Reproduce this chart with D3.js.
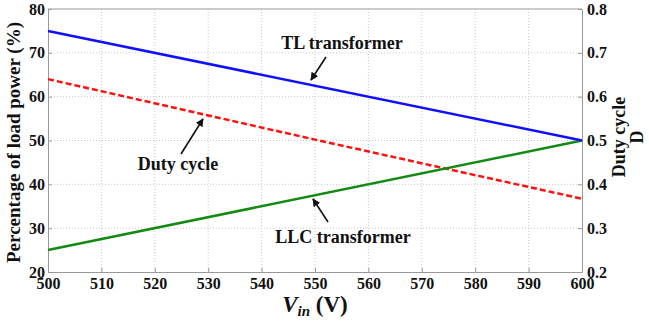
<!DOCTYPE html>
<html>
<head>
<meta charset="utf-8">
<script src="https://cdn.jsdelivr.net/npm/d3@7"></script>
<style>
  body { margin: 0; background: #fff; }
  svg text { font-family: "Liberation Serif", "Times New Roman", Tinos, "DejaVu Serif", serif !important; font-weight: bold; fill: #111; }
</style>
</head>
<body>
<div id="chart"></div>
<script>
const vin = [500, 600];
const tlTransformer = [75, 50];
const llcTransformer = [25, 50];
const dutyVin = [500, 550, 600];
const dutyCycle = [0.64, 0.502, 0.367];
const xTicks = [500, 510, 520, 530, 540, 550, 560, 570, 580, 590, 600];
const yTicks = [20, 30, 40, 50, 60, 70, 80];
const dTicks = [0.2, 0.3, 0.4, 0.5, 0.6, 0.7, 0.8];

const w = 649;
const h = 322;
const padL = 48, padR = 582, padT = 9, padB = 272;

const svg = d3.select("#chart")
    .append("svg")
    .attr("width", w)
    .attr("height", h);

const xScale = d3.scaleLinear().domain([500, 600]).range([padL, padR]);
const yScale = d3.scaleLinear().domain([20, 80]).range([padB, padT]);
const dScale = d3.scaleLinear().domain([0.2, 0.8]).range([padB, padT]);

// grid
const grid = svg.append("g");
grid.selectAll(".gx")
    .data(xTicks.slice(1, -1))
    .enter()
    .append("line")
    .attr("x1", d => xScale(d)).attr("x2", d => xScale(d))
    .attr("y1", padT).attr("y2", padB)
    .attr("stroke", "#c8c8c8")
    .attr("stroke-dasharray", "1,2");
grid.selectAll(".gy")
    .data(yTicks.slice(1, -1))
    .enter()
    .append("line")
    .attr("x1", padL).attr("x2", padR)
    .attr("y1", d => yScale(d)).attr("y2", d => yScale(d))
    .attr("stroke", "#c8c8c8")
    .attr("stroke-dasharray", "1,2");

// axes
const xAxis = d3.axisBottom(xScale).tickValues(xTicks).tickSizeInner(-4).tickSizeOuter(0).tickPadding(4);
const yAxis = d3.axisLeft(yScale).tickValues(yTicks).tickSizeInner(-4).tickSizeOuter(0).tickPadding(3);
const dAxis = d3.axisRight(dScale).tickValues(dTicks).tickFormat(d3.format(".1f")).tickSizeInner(-4).tickSizeOuter(0).tickPadding(5);

const gx = svg.append("g").attr("transform", `translate(0, ${padB})`).call(xAxis);
const gy = svg.append("g").attr("transform", `translate(${padL}, 0)`).call(yAxis);
const gd = svg.append("g").attr("transform", `translate(${padR}, 0)`).call(dAxis);
svg.append("line").attr("x1", padL).attr("x2", padR).attr("y1", padT).attr("y2", padT).attr("stroke", "#999");

[gx, gy, gd].forEach(g => {
    g.attr("font-family", null).attr("font-size", null);
    g.select(".domain").attr("stroke", "#999");
    g.selectAll(".tick line").attr("stroke", "#999");
    g.selectAll(".tick text").style("font-size", "16px").attr("fill", "#111");
});
gx.selectAll(".tick text").attr("dy", "0.8em");

// lines
const line = d3.line().x(d => xScale(d[0])).y(d => yScale(d[1]));
const dLine = d3.line().x(d => xScale(d[0])).y(d => dScale(d[1]));

svg.append("path")
    .attr("d", dLine(d3.zip(dutyVin, dutyCycle)))
    .attr("fill", "none")
    .attr("stroke", "#ff1010")
    .attr("stroke-width", 2.5)
    .attr("stroke-dasharray", "6,3");
svg.append("path")
    .attr("d", line(d3.zip(vin, llcTransformer)))
    .attr("fill", "none")
    .attr("stroke", "#138a13")
    .attr("stroke-width", 2.5);
svg.append("path")
    .attr("d", line(d3.zip(vin, tlTransformer)))
    .attr("fill", "none")
    .attr("stroke", "#1010ff")
    .attr("stroke-width", 2.5);

// annotations
svg.append("defs").append("marker")
    .attr("id", "arrow")
    .attr("viewBox", "0 0 10 10")
    .attr("refX", 9).attr("refY", 5)
    .attr("markerWidth", 5).attr("markerHeight", 5)
    .attr("orient", "auto")
    .append("path")
    .attr("d", "M0,0 L10,5 L0,10 z")
    .attr("fill", "#111");

const notes = [
    {text: "TL transformer", tx: 342, ty: 49, x1: 326, y1: 57, x2: 311, y2: 80},
    {text: "Duty cycle", tx: 178, ty: 170, x1: 181, y1: 154, x2: 203, y2: 119},
    {text: "LLC transformer", tx: 343, ty: 243, x1: 328, y1: 222, x2: 313, y2: 199}
];
notes.forEach(n => {
    svg.append("text")
        .attr("x", n.tx).attr("y", n.ty)
        .attr("text-anchor", "middle")
        .style("font-size", "18px")
        .text(n.text);
    svg.append("line")
        .attr("x1", n.x1).attr("y1", n.y1)
        .attr("x2", n.x2).attr("y2", n.y2)
        .attr("stroke", "#111")
        .attr("stroke-width", 1.6)
        .attr("marker-end", "url(#arrow)");
});

// axis titles
svg.append("text")
    .attr("transform", `translate(20, ${(padT + padB) / 2 + 2}) rotate(-90)`)
    .attr("text-anchor", "middle")
    .style("font-size", "19px")
    .text("Percentage of load power (%)");

const dt = svg.append("text")
    .attr("transform", `translate(625, 137) rotate(-90)`)
    .attr("text-anchor", "middle")
    .style("font-size", "18px");
dt.append("tspan").attr("x", 0).attr("dy", 0).text("Duty cycle");
dt.append("tspan").attr("x", 0).attr("dy", 18).text("D");

const xt = svg.append("text")
    .attr("x", 315).attr("y", 312)
    .attr("text-anchor", "middle")
    .style("font-size", "23px");
xt.append("tspan").style("font-style", "italic").text("V");
xt.append("tspan").style("font-style", "italic").style("font-size", "15px").attr("dy", 4).text("in");
xt.append("tspan").attr("dy", -4).text(" (V)");
</script>
</body>
</html>
